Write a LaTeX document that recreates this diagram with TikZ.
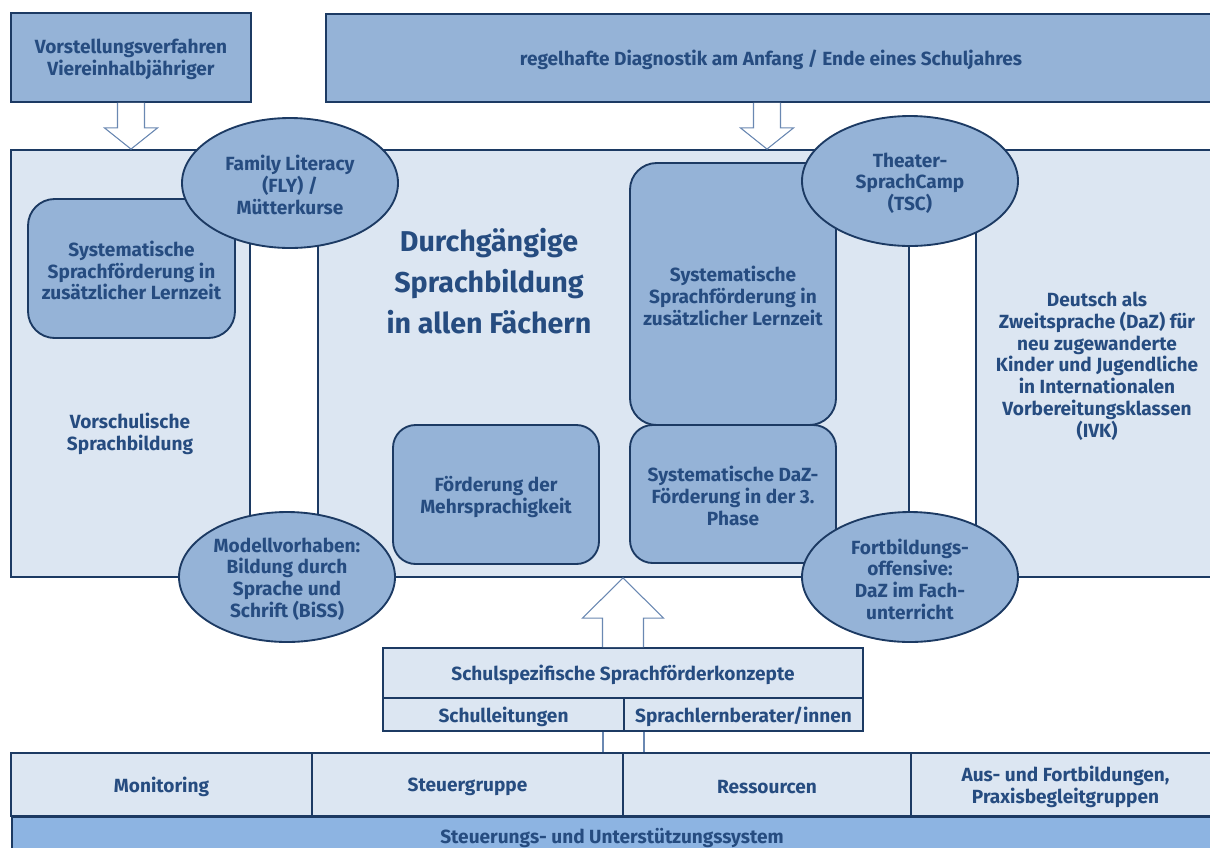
\documentclass[tikz,border=0pt]{standalone}
\usepackage{fontspec}
\setmainfont{Fira Sans}
\usetikzlibrary{shapes.geometric,calc}
\definecolor{dk}{HTML}{95B3D7}
\definecolor{lt}{HTML}{DCE6F2}
\definecolor{bd}{HTML}{1C3A63}
\definecolor{tx}{HTML}{264C80}
\definecolor{ar}{HTML}{6A88B2}
\definecolor{barfill}{HTML}{8DB4E2}
\begin{document}
\begin{tikzpicture}[x=0.75pt,y=-0.75pt,
 sz/.style 2 args={minimum width=#1*0.75pt, minimum height=#2*0.75pt, inner sep=0pt},
 txt/.style={text=tx, font=\fontsize{14.3}{16.3}\selectfont\bfseries, align=center, inner sep=0pt, yshift=-1.6pt},
 big/.style={text=tx, font=\fontsize{21.5}{30.8}\selectfont\bfseries, align=center, inner sep=0pt},
 lbl/.style={label={[txt]center:{#1}}},
 panel/.style={rectangle, draw=bd, line width=1.4pt, fill=lt},
 darkbox/.style={rectangle, draw=bd, line width=1.4pt, fill=dk},
 rbox/.style={darkbox, rounded corners=#1},
 oval/.style={ellipse, draw=bd, line width=1.4pt, fill=dk, minimum width=162pt, minimum height=97.5pt, inner sep=0pt},
 hollow/.style={draw=ar, line width=0.8pt, fill=white, line join=miter},
 arline/.style={draw=ar, line width=0.8pt}]
\useasboundingbox (0,0) rectangle (1210,847);
\clip (0,0) rectangle (1210,847);

% top boxes
\node[darkbox, sz={240}{89}, lbl={Vorstellungsverfahren\\Viereinhalbjähriger}] (vorst) at (131,57.5) {};
\node[darkbox, sz={890}{88}, lbl={regelhafte Diagnostik am Anfang / Ende eines Schuljahres}] (diag) at (771,58) {};

% panels
\node[panel, sz={239}{427}] (lpanel) at (130.5,363.5) {};
\node[panel, sz={591}{427}] (cpanel) at (613.5,363.5) {};
\node[panel, sz={244}{427}] (rpanel) at (1098,363.5) {};

% arrows from the top
\draw[hollow] ($(vorst.south)+(-13.5,0)$) -- ++(0,25) -- ++(-13,0) -- (vorst.south |- lpanel.north) -- ($(vorst.south)+(26.5,25)$) -- ++(-13,0) -- ($(vorst.south)+(13.5,0)$);
\coordinate (t2) at (767,150);
\draw[hollow] ($(t2 |- diag.south)+(-13.5,0)$) -- ++(0,25) -- ++(-13,0) -- (t2 |- cpanel.north) -- ($(t2 |- diag.south)+(26.5,25)$) -- ++(-13,0) -- ($(t2 |- diag.south)+(13.5,0)$);

% texts in panels
\node[txt] (vors) at (130,432) {Vorschulische\\Sprachbildung};
\node[big] (durch) at (489,281) {Durchgängige\\Sprachbildung\\in allen Fächern};
\node[txt] (dazt) at (1097,364) {Deutsch als\\Zweitsprache (DaZ) für\\neu zugewanderte\\Kinder und Jugendliche\\in Internationalen\\Vorbereitungsklassen\\(IVK)};

% rounded boxes
\node[rbox=20pt, sz={207}{139}, lbl={Systematische\\Sprachförderung in\\zusätzlicher Lernzeit}] (lsys) at (131.5,268.5) {};
\node[rbox=20pt, sz={206}{262}, lbl={Systematische\\Sprachförderung in\\zusätzlicher Lernzeit}] (csys) at (733,294) {};
\node[rbox=17pt, sz={206}{138}, lbl={Systematische DaZ-\\Förderung in der 3.\\Phase}] (dazf) at (733,494) {};
\node[rbox=17pt, sz={206}{139}, lbl={Förderung der\\Mehrsprachigkeit}] (mehr) at (496,494.5) {};

% ellipses
\node[oval, lbl={Family Literacy\\(FLY) /\\Mütterkurse}] (fly) at (290,183) {};
\node[oval, lbl={Theater-\\SprachCamp\\(TSC)}] (tsc) at (910,181) {};
\node[oval, lbl={Modellvorhaben:\\Bildung durch\\Sprache und\\Schrift (BiSS)}] (biss) at (287,577) {};
\node[oval, lbl={Fortbildungs-\\offensive:\\DaZ im Fach-\\unterricht}] (fort) at (910,577) {};

% school boxes
\node[panel, sz={480}{50}, lbl={Schulspezifische Sprachförderkonzepte}] (schul) at (623,673) {};
\node[panel, sz={241}{33}, lbl={Schulleitungen}] (schull) at (503.5,714.5) {};
\node[panel, sz={239}{33}, lbl={Sprachlernberater/innen}] (sprachl) at (743.5,714.5) {};

% up arrow
\draw[hollow] ($(schul.north)+(-20.5,0)$) -- ++(0,-29) -- ++(-20,0) -- (schul.north |- cpanel.south) -- ($(schul.north)+(40.5,-29)$) -- ++(-20,0) -- ($(schul.north)+(20.5,0)$);

% bottom row
\node[panel, sz={301}{63}, lbl={Monitoring}] (mon) at (161.5,784.5) {};
\node[panel, sz={311}{63}, lbl={Steuergruppe}] (steu) at (467.5,784.5) {};
\node[panel, sz={288}{63}, lbl={Ressourcen}] (res) at (767,784.5) {};
\node[panel, sz={309}{63}, lbl={Aus- und Fortbildungen,\\Praxisbegleitgruppen}] (aus) at (1065.5,784.5) {};
\node[rectangle, draw=bd, line width=1.4pt, fill=barfill, sz={1209}{54}, anchor=north west] (bar) at (11,816) {};
\node[txt] (bart) at (612,836) {Steuerungs- und Unterstützungssystem};

% shaft lines below the school box
\coordinate (ua) at (603,740);
\coordinate (ub) at (644,740);
\draw[arline] (ua |- schull.south) -- (ua |- mon.north);
\draw[arline] (ub |- schull.south) -- (ub |- mon.north);
\end{tikzpicture}
\end{document}
